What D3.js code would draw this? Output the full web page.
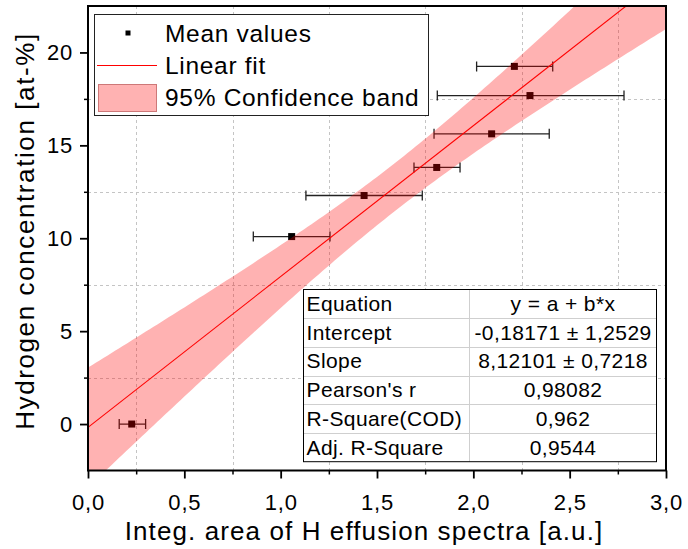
<!DOCTYPE html>
<html>
<head>
<meta charset="utf-8">
<script src="https://cdn.jsdelivr.net/npm/d3@7"></script>
<style>
  html, body { margin: 0; padding: 0; background: #fff; }
  svg { display: block; font-family: "Liberation Sans", Arial, sans-serif; }
</style>
</head>
<body>
<svg id="chart" width="688" height="549"></svg>
<script>
// Mean values with horizontal uncertainty (integrated area of H effusion spectra)
const areaMean = [0.227, 1.057, 1.433, 1.810, 2.095, 2.294, 2.213];
const areaLow  = [0.162, 0.858, 1.131, 1.692, 1.796, 1.813, 2.017];
const areaHigh = [0.299, 1.256, 1.735, 1.931, 2.394, 2.782, 2.412];
const hConc    = [0.0, 10.09, 12.30, 13.81, 15.62, 17.68, 19.25];

// Linear fit results
const intercept = -0.18171, interceptErr = 1.2529;
const slope = 8.12101, slopeErr = 0.7218;
const pearsonR = 0.98082, rSquare = 0.962, adjRSquare = 0.9544;
const tCrit = 2.5706; // Student t, 95 %, 5 degrees of freedom

const xTicks = [0, 0.5, 1.0, 1.5, 2.0, 2.5, 3.0];
const xMinor = [0.25, 0.75, 1.25, 1.75, 2.25, 2.75];
const yTicks = [0, 5, 10, 15, 20];
const yMinor = [2.5, 7.5, 12.5, 17.5];

const legendLabels = ["Mean values", "Linear fit", "95% Confidence band"];
const tableLabels = ["Equation", "Intercept", "Slope", "Pearson's r", "R-Square(COD)", "Adj. R-Square"];

const comma = v => String(v).replace(".", ",");
const tableValues = [
  "y = a + b*x",
  `${comma(intercept)} ± ${comma(interceptErr)}`,
  `${comma(slope)} ± ${comma(slopeErr)}`,
  comma(pearsonR), comma(rSquare), comma(adjRSquare)
];

const svg = d3.select("#chart");
const L = 88, R = 666, T = 6, B = 470.5;

const x = d3.scaleLinear().domain([0, 3]).range([L, R]);
const y = d3.scaleLinear().domain([-2.5, 22.5]).range([B, T]);

svg.append("rect").attr("width", 688).attr("height", 549).attr("fill", "#fff");

svg.append("defs").append("clipPath").attr("id", "plotClip")
  .append("rect").attr("x", L).attr("y", T).attr("width", R - L).attr("height", B - T);

// dashed grid on the minor positions
const grid = svg.append("g").attr("stroke", "#c4c4c4").attr("stroke-width", 1).attr("stroke-dasharray", "3,3");
grid.selectAll("line.gx").data(xMinor).join("line")
  .attr("x1", d => Math.round(x(d)) + 0.5).attr("x2", d => Math.round(x(d)) + 0.5)
  .attr("y1", T).attr("y2", B);
grid.selectAll("line.gy").data(yMinor).join("line")
  .attr("y1", d => Math.round(y(d)) + 0.5).attr("y2", d => Math.round(y(d)) + 0.5)
  .attr("x1", L).attr("x2", R);

// data points with error bars
const pts = d3.range(areaMean.length);
const pg = svg.append("g").attr("clip-path", "url(#plotClip)");
const eb = pg.append("g").attr("stroke", "#222").attr("stroke-width", 1.3);
eb.selectAll("line.bar").data(pts).join("line")
  .attr("x1", i => x(areaLow[i])).attr("x2", i => x(areaHigh[i]))
  .attr("y1", i => y(hConc[i])).attr("y2", i => y(hConc[i]));
eb.selectAll("line.capl").data(pts).join("line")
  .attr("x1", i => x(areaLow[i])).attr("x2", i => x(areaLow[i]))
  .attr("y1", i => y(hConc[i]) - 5).attr("y2", i => y(hConc[i]) + 5);
eb.selectAll("line.caph").data(pts).join("line")
  .attr("x1", i => x(areaHigh[i])).attr("x2", i => x(areaHigh[i]))
  .attr("y1", i => y(hConc[i]) - 5).attr("y2", i => y(hConc[i]) + 5);
pg.selectAll("rect.pt").data(pts).join("rect")
  .attr("x", i => x(areaMean[i]) - 3.5).attr("y", i => y(hConc[i]) - 3.5)
  .attr("width", 7).attr("height", 7).attr("fill", "#000");

// 95 % confidence band of the fit
const xBar = d3.mean(areaMean);
const varMean = interceptErr * interceptErr - xBar * xBar * slopeErr * slopeErr;
const halfWidth = v => tCrit * Math.sqrt(varMean + (v - xBar) * (v - xBar) * slopeErr * slopeErr);
const fit = v => intercept + slope * v;
const bandX = d3.range(0, 3.0001, 0.02);
const band = d3.area()
  .x(v => x(v))
  .y0(v => y(fit(v) - halfWidth(v)))
  .y1(v => y(fit(v) + halfWidth(v)));
pg.append("path").datum(bandX).attr("d", band)
  .attr("fill", "rgb(255,0,0)").attr("fill-opacity", 0.3);

// fit line
pg.append("line")
  .attr("x1", x(0)).attr("y1", y(fit(0)))
  .attr("x2", x(3)).attr("y2", y(fit(3)))
  .attr("stroke", "#ff0000").attr("stroke-width", 1.1);

// axes
const fmt = v => d3.format(".1f")(v).replace(".", ",");
const xAxis = svg.append("g").attr("transform", `translate(0,${B})`)
  .call(d3.axisBottom(x).tickValues(xTicks).tickFormat(fmt).tickSize(8).tickPadding(16).tickSizeOuter(0));
const yAxis = svg.append("g").attr("transform", `translate(${L},0)`)
  .call(d3.axisLeft(y).tickValues(yTicks).tickFormat(d3.format("d")).tickSize(8).tickPadding(7).tickSizeOuter(0));
[xAxis, yAxis].forEach(a => {
  a.select(".domain").remove();
  a.selectAll(".tick line").attr("stroke", "#000").attr("stroke-width", 1.8);
  a.selectAll(".tick text").attr("fill", "#000").attr("font-size", 22)
    .attr("font-family", "Liberation Sans, Arial, sans-serif").attr("letter-spacing", 0.8);
});
svg.append("g").attr("transform", `translate(0,${B})`)
  .call(d3.axisBottom(x).tickValues(xMinor).tickFormat("").tickSize(4).tickSizeOuter(0))
  .call(g => g.select(".domain").remove())
  .selectAll("line").attr("stroke", "#000").attr("stroke-width", 1.5);
svg.append("g").attr("transform", `translate(${L},0)`)
  .call(d3.axisLeft(y).tickValues(yMinor).tickFormat("").tickSize(4).tickSizeOuter(0))
  .call(g => g.select(".domain").remove())
  .selectAll("line").attr("stroke", "#000").attr("stroke-width", 1.5);

// frame
svg.append("rect").attr("x", L).attr("y", T).attr("width", R - L).attr("height", B - T)
  .attr("fill", "none").attr("stroke", "#000").attr("stroke-width", 2);

// axis titles
svg.append("text").attr("x", 364).attr("y", 540).attr("text-anchor", "middle")
  .attr("font-size", 26).attr("letter-spacing", 1.1)
  .text("Integ. area of H effusion spectra [a.u.]");
svg.append("text").attr("transform", "translate(34,231) rotate(-90)").attr("text-anchor", "middle")
  .attr("font-size", 26).attr("letter-spacing", 1.6)
  .text("Hydrogen concentration [at-%]");

// legend
const lg = svg.append("g");
lg.append("rect").attr("x", 94.5).attr("y", 14.5).attr("width", 334).attr("height", 101)
  .attr("fill", "#fff").attr("stroke", "#222").attr("stroke-width", 1);
lg.append("rect").attr("x", 125.5).attr("y", 30.5).attr("width", 5).attr("height", 5).attr("fill", "#000");
lg.append("line").attr("x1", 97).attr("x2", 157).attr("y1", 65.5).attr("y2", 65.5)
  .attr("stroke", "#ff0000").attr("stroke-width", 1);
lg.append("rect").attr("x", 98.5).attr("y", 84.5).attr("width", 58).attr("height", 27)
  .attr("fill", "rgb(255,178,178)").attr("stroke", "rgb(205,120,120)").attr("stroke-width", 1);
lg.selectAll("text").data(legendLabels).join("text")
  .attr("x", 165).attr("y", (d, i) => 41.7 + i * 32.2)
  .attr("font-size", 24.5).attr("letter-spacing", 0.7).text(d => d);

// fit statistics table
const tx0 = 303.5, tx1 = 469.5, tx2 = 656.5, ty0 = 289.5, rowH = 28.7;
const tb = svg.append("g");
tb.append("rect").attr("x", tx0).attr("y", ty0).attr("width", tx2 - tx0).attr("height", rowH * 6)
  .attr("fill", "#fff");
tb.selectAll("line.row").data(d3.range(1, 6)).join("line")
  .attr("x1", tx0).attr("x2", tx2)
  .attr("y1", i => Math.round(ty0 + i * rowH) + 0.5).attr("y2", i => Math.round(ty0 + i * rowH) + 0.5)
  .attr("stroke", "#cfcfcf").attr("stroke-width", 1);
tb.append("line").attr("x1", tx1).attr("x2", tx1).attr("y1", ty0).attr("y2", ty0 + rowH * 6)
  .attr("stroke", "#cfcfcf").attr("stroke-width", 1);
tb.append("rect").attr("x", tx0).attr("y", ty0).attr("width", tx2 - tx0).attr("height", rowH * 6)
  .attr("fill", "none").attr("stroke", "#000").attr("stroke-width", 1);
tb.selectAll("text.lab").data(tableLabels).join("text")
  .attr("x", tx0 + 3).attr("y", (d, i) => ty0 + i * rowH + 21.5)
  .attr("font-size", 21).attr("letter-spacing", 0.4).text(d => d);
tb.selectAll("text.val").data(tableValues).join("text")
  .attr("x", (tx1 + tx2) / 2).attr("y", (d, i) => ty0 + i * rowH + 21.5)
  .attr("text-anchor", "middle")
  .attr("font-size", 21).attr("letter-spacing", 0.4).text(d => d);
</script>
</body>
</html>
